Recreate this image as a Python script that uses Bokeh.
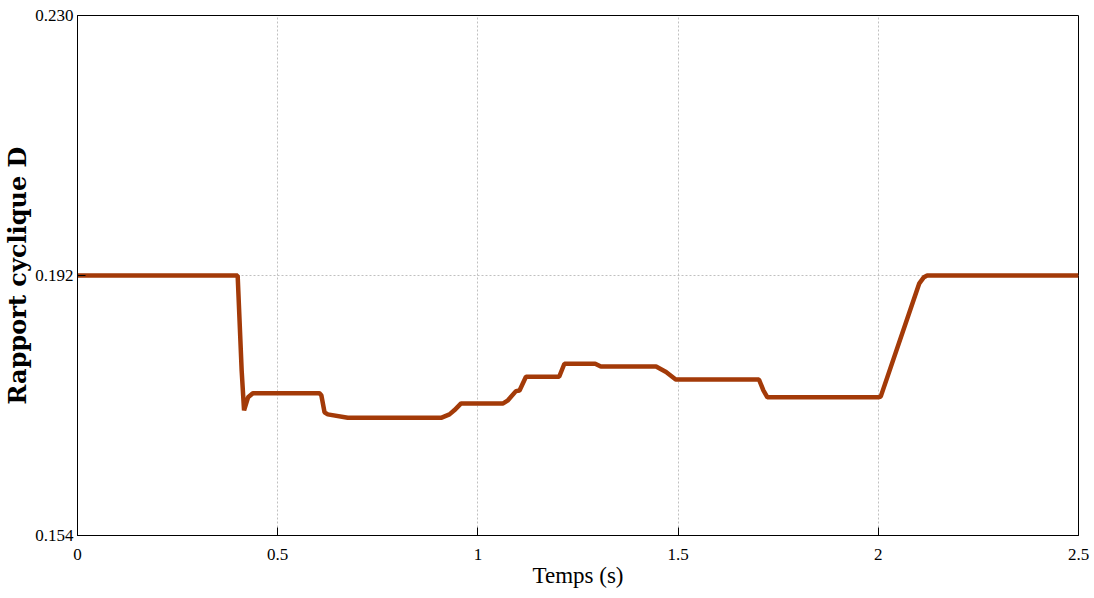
from bokeh.plotting import figure
from bokeh.models import FixedTicker, Range1d
from bokeh.embed import file_html
from bokeh.resources import INLINE

# Duty cycle trace (time in s, duty cycle D)
time_s = [0.0, 0.400, 0.410, 0.416, 0.426, 0.438, 0.604, 0.609, 0.617, 0.625, 0.675,
          0.908, 0.929, 0.941, 0.958, 1.063, 1.074, 1.095, 1.104, 1.120, 1.203, 1.216,
          1.293, 1.307, 1.445, 1.470, 1.494, 1.702, 1.713, 1.723, 2.000, 2.006, 2.102,
          2.114, 2.122, 2.500]
duty = [0.1920, 0.1920, 0.1781, 0.1723, 0.1742, 0.1748, 0.1748, 0.1745, 0.1720, 0.1717,
        0.1712, 0.1712, 0.1717, 0.1723, 0.1733, 0.1733, 0.1737, 0.1751, 0.1752, 0.1772,
        0.1772, 0.1791, 0.1791, 0.1787, 0.1787, 0.1779, 0.1768, 0.1768, 0.1752, 0.1742,
        0.1742, 0.1743, 0.1908, 0.19175, 0.1920, 0.1920]

x_ticks = [0, 0.5, 1, 1.5, 2, 2.5]
x_tick_labels = {0: "0", 0.5: "0.5", 1: "1", 1.5: "1.5", 2: "2", 2.5: "2.5"}
y_ticks = [0.154, 0.192, 0.230]
y_tick_labels = {0.154: "0.154", 0.192: "0.192", 0.230: "0.230"}

p = figure(width=1094, height=598, output_backend="svg", toolbar_location=None,
           x_range=Range1d(0, 2.5), y_range=Range1d(0.154, 0.230),
           min_border_left=76, min_border_right=16, min_border_top=15, min_border_bottom=63)

p.line(time_s, duty, line_color="#A33A08", line_width=4.5)

p.outline_line_color = "black"
p.outline_line_width = 1
p.background_fill_color = "white"
p.border_fill_color = "white"

serif = "Liberation Serif"
for ax in (p.xaxis[0], p.yaxis[0]):
    ax.axis_line_color = "black"
    ax.major_tick_line_color = "black"
    ax.major_tick_in = 8
    ax.major_tick_out = 0
    ax.minor_tick_line_color = None
    ax.major_label_text_font = serif
    ax.major_label_text_font_size = "17px"
    ax.major_label_text_color = "black"
    ax.axis_label_text_color = "black"

p.xaxis.ticker = FixedTicker(ticks=x_ticks)
p.xaxis.major_label_overrides = x_tick_labels
p.yaxis.ticker = FixedTicker(ticks=y_ticks)
p.yaxis.major_label_overrides = y_tick_labels

p.xaxis.axis_label = "Temps (s)"
p.xaxis.axis_label_text_font = serif
p.xaxis.axis_label_text_font_size = "23px"
p.xaxis.axis_label_text_font_style = "normal"
p.xaxis.axis_label_standoff = 0
p.xaxis.major_label_standoff = 13

p.yaxis.axis_label = "Rapport cyclique D"
p.yaxis.axis_label_text_font = "DejaVu Serif"
p.yaxis.axis_label_text_font_size = "24px"
p.yaxis.axis_label_text_font_style = "bold"
p.yaxis.axis_label_standoff = 0
p.yaxis.major_label_standoff = 4

p.xgrid.grid_line_color = "#c0c0c0"
p.xgrid.grid_line_dash = "2 2"
p.xgrid.grid_line_width = 1
p.ygrid.grid_line_color = "#c0c0c0"
p.ygrid.grid_line_dash = "2 2"
p.ygrid.grid_line_width = 1

open("out.html", "w").write(file_html(p, INLINE))
